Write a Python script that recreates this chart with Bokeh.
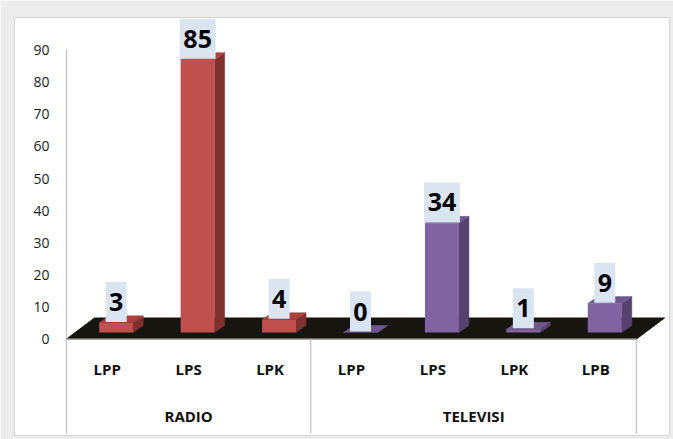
from bokeh.plotting import figure
from bokeh.models import Range1d
from bokeh.core.properties import value
from bokeh.embed import file_html
from bokeh.resources import INLINE

# ---- data ----
group_names = ["RADIO", "TELEVISI"]
radio_categories = ["LPP", "LPS", "LPK"]
radio_values = [3, 85, 4]
tv_categories = ["LPP", "LPS", "LPK", "LPB"]
tv_values = [0, 34, 1, 9]
y_tick_values = [0, 10, 20, 30, 40, 50, 60, 70, 80, 90]

# ---- styling / geometry (pixels converted to data units) ----
PX_X = 81.43   # px per category slot
PX_Y = 3.21    # px per value unit
FONT = value("Open Sans")

radio_front, radio_side, radio_top = "#c0504d", "#7e312f", "#a9423f"
tv_front, tv_side, tv_top = "#8064a2", "#55426f", "#6f578f"

bar_w = 34 / PX_X
bar_shift_x = 9 / PX_X
bar_base = 6.5 / PX_Y
depth_dx = 10 / PX_X
depth_dy = 7 / PX_Y
floor_dx = 28 / PX_X
floor_dy = 21 / PX_Y

cats = radio_categories + tv_categories
vals = radio_values + tv_values
n = len(cats)
fronts = [radio_front] * len(radio_values) + [tv_front] * len(tv_values)
sides = [radio_side] * len(radio_values) + [tv_side] * len(tv_values)
tops = [radio_top] * len(radio_values) + [tv_top] * len(tv_values)

p = figure(width=673, height=439, output_backend="svg", toolbar_location=None,
           x_axis_type=None, y_axis_type=None,
           x_range=Range1d((14 - 66) / PX_X, (669 - 66) / PX_X),
           y_range=Range1d((338.5 - 435) / PX_Y, (338.5 - 17) / PX_Y),
           min_border_left=14, min_border_top=17, min_border_right=4, min_border_bottom=4)
p.border_fill_color = "#ececec"
p.background_fill_color = "white"
p.outline_line_color = "#d4d4d4"
p.xgrid.visible = False
p.ygrid.visible = False

# floor
p.patch([0, n, n + floor_dx, floor_dx], [0, 0, floor_dy, floor_dy],
        fill_color="#16150f", line_color="#16150f")

# bars
xs_side, ys_side, xs_top, ys_top = [], [], [], []
lefts, rights, bottoms, tops_y = [], [], [], []
for i, v in enumerate(vals):
    c = i + 0.5 + bar_shift_x
    l, r = c - bar_w / 2, c + bar_w / 2
    b, t = bar_base, bar_base + v
    lefts.append(l); rights.append(r); bottoms.append(b); tops_y.append(t)
    xs_side.append([r, r + depth_dx, r + depth_dx, r])
    ys_side.append([b, b + depth_dy, t + depth_dy, t])
    xs_top.append([l, r, r + depth_dx, l + depth_dx])
    ys_top.append([t, t, t + depth_dy, t + depth_dy])

p.patches(xs_side, ys_side, fill_color=sides, line_color=sides, line_width=0.5)
p.patches(xs_top, ys_top, fill_color=tops, line_color=tops, line_width=0.5)
p.quad(left=lefts, right=rights, bottom=bottoms, top=tops_y,
       fill_color=fronts, line_color=None)

# axis lines
axis_gray = "#bfbfbf"
p.segment(x0=[0], y0=[90.2], x1=[0], y1=[(338.5 - 433) / PX_Y], line_color=axis_gray, line_width=1.2)
p.segment(x0=[0], y0=[0], x1=[n], y1=[0], line_color=axis_gray, line_width=1.2)
bounds = [len(radio_values), n]
p.segment(x0=bounds, y0=[0] * 2, x1=bounds, y1=[(338.5 - 433) / PX_Y] * 2,
          line_color=axis_gray, line_width=1.2)

# y tick labels
p.text(x=[(49 - 66) / PX_X] * len(y_tick_values), y=y_tick_values,
       text=[str(t) for t in y_tick_values], text_align="right", text_baseline="middle",
       text_font=FONT, text_font_size="14px", text_color="#1a1a1a")

# category labels
p.text(x=[i + 0.5 for i in range(n)], y=[(338.5 - 368.5) / PX_Y] * n, text=cats,
       text_align="center", text_baseline="middle", text_font=FONT,
       text_font_size="15px", text_font_style="bold", text_color="#111111")

# group labels
p.text(x=[len(radio_values) / 2, len(radio_values) + len(tv_values) / 2],
       y=[(338.5 - 415) / PX_Y] * 2, text=group_names,
       text_align="center", text_baseline="middle", text_font=FONT,
       text_font_size="15px", text_font_style="bold", text_color="#111111")

# value labels with boxes
box_h = 40 / PX_Y
lab_x = [i + 0.5 + bar_shift_x for i in range(n)]
box_w = [(len(str(v)) * 15 + 6) / PX_X for v in vals]
box_y = [bottoms[i] + vals[i] + 0.3 + box_h / 2 for i in range(n)]
p.rect(x=lab_x, y=box_y, width=box_w, height=box_h, fill_color="#dbe5f1", line_color=None)
p.text(x=lab_x, y=box_y, text=[str(v) for v in vals], text_align="center",
       text_baseline="middle", text_font=FONT, text_font_size="25px",
       text_font_style="bold", text_color="#000000")

open("out.html", "w").write(file_html(p, INLINE))
